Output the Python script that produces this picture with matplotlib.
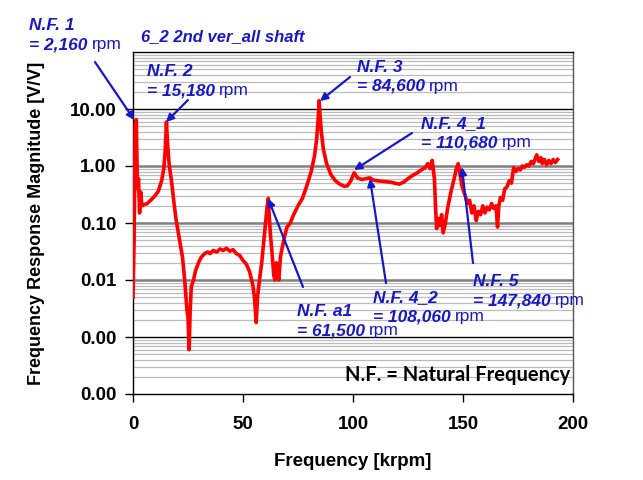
import matplotlib.pyplot as plt
from matplotlib.ticker import FixedLocator, FixedFormatter, NullFormatter

plt.rcParams['font.family'] = ['Liberation Sans', 'DejaVu Sans']

# frequency [krpm] and response magnitude [V/V]
freq = [0.0, 0.5, 1.0, 1.5, 2.0, 2.5, 3.0, 3.5, 4.0, 5.0, 6.5, 8.0, 10.0, 11.5, 13.0,
        14.0, 14.6, 15.2, 15.7, 16.5, 17.5, 18.5, 19.5, 21.0, 22.5, 23.5, 24.5, 25.0,
        25.5, 26.0, 26.5, 27.5, 28.5, 30.0, 31.0, 32.5, 34.0, 35.0, 36.5, 38.0, 39.5,
        41.0, 42.5, 44.0, 45.5, 47.0, 48.5, 50.0, 51.5, 53.0, 54.5, 55.2, 56.0, 56.6,
        57.5, 58.5, 59.5, 60.3, 61.0, 61.5, 62.0, 62.5, 63.2, 64.0, 64.5, 65.2, 65.8,
        66.3, 67.0, 68.0, 69.0, 70.0, 71.5, 73.0, 75.0, 77.0, 79.0, 81.0, 82.5, 83.5,
        84.2, 84.6, 85.0, 85.6, 86.5, 88.0, 90.0, 92.0, 94.0, 96.0, 97.5, 99.0, 100.5,
        102.0, 104.0, 106.0, 107.7, 109.0, 111.0, 113.0, 115.0, 117.0, 119.0, 121.0,
        123.0, 125.0, 127.0, 129.0, 131.0, 133.0, 134.0, 135.0, 136.0, 137.0, 137.5,
        138.0, 138.8, 139.5, 140.3, 141.0, 142.0, 143.0, 144.5, 146.0, 147.0, 147.8,
        148.5, 149.5, 151.0, 152.0, 153.0, 154.0, 155.0, 156.0, 157.0, 158.0, 159.0,
        160.0, 161.0, 162.0, 163.0, 164.0, 165.0, 165.7, 166.3, 167.0, 168.0, 169.0,
        170.0, 171.0, 172.0, 173.0, 174.0, 175.0, 176.0, 177.0, 178.0, 179.0, 180.0,
        181.0, 182.0, 183.5, 184.5, 185.5, 186.0, 187.0, 188.0, 189.0, 190.0, 191.0,
        192.0, 193.0]
mag = [0.005, 0.05, 5.5, 6.5, 0.4, 0.6, 0.15, 0.35, 0.2, 0.21, 0.22, 0.25, 0.3, 0.36, 0.55,
       0.9, 1.8, 5.9, 2.5, 1.0, 0.55, 0.25, 0.12, 0.055, 0.025, 0.01, 0.003, 0.0022,
       0.0006, 0.003, 0.0076, 0.01, 0.015, 0.021, 0.025, 0.029, 0.031, 0.029, 0.033, 0.031, 0.035,
       0.033, 0.036, 0.032, 0.034, 0.029, 0.027, 0.022, 0.019, 0.014, 0.008, 0.005, 0.0018, 0.005,
       0.01, 0.02, 0.05, 0.1, 0.2, 0.27, 0.12, 0.06, 0.03, 0.012, 0.01, 0.02, 0.012,
       0.01, 0.025, 0.04, 0.06, 0.085, 0.1, 0.14, 0.2, 0.27, 0.45, 0.8, 1.5, 3.0,
       7.0, 14.0, 8.0, 4.0, 2.0, 1.1, 0.7, 0.55, 0.48, 0.44, 0.45, 0.55, 0.76,
       0.62, 0.58, 0.6, 0.62, 0.57, 0.55, 0.54, 0.53, 0.52, 0.5, 0.48,
       0.52, 0.6, 0.68, 0.75, 0.85, 0.95, 1.1, 0.9, 1.26, 0.6, 0.2,
       0.08, 0.12, 0.09, 0.14, 0.067, 0.1, 0.18, 0.35, 0.6, 0.9, 1.1,
       0.8, 0.45, 0.3, 0.22, 0.25, 0.15, 0.2, 0.11, 0.16, 0.14, 0.2,
       0.15, 0.19, 0.17, 0.22, 0.18, 0.2, 0.085, 0.2, 0.28, 0.25, 0.4,
       0.43, 0.55, 0.5, 0.93, 0.8, 0.9, 0.85, 1.0, 0.95, 1.05, 1.0,
       1.2, 1.1, 1.57, 1.2, 1.4, 1.1, 1.3, 1.05, 1.25, 1.1, 1.3,
       1.15, 1.3]

ytick_vals = [1e-4, 1e-3, 1e-2, 1e-1, 1, 10]
ytick_labels = ['0.00', '0.00', '0.01', '0.10', '1.00', '10.00']
xtick_vals = [0, 50, 100, 150, 200]

# (name, value, text left px, first line y px, arrow head x, y, arrow tail px)
notes = [
    ('N.F. 1', '= 2,160', 29, 26, 0.6, 6.4, (95, 62)),
    ('N.F. 2', '= 15,180', 147, 72, 15.0, 5.9, (188, 100)),
    ('N.F. 3', '= 84,600', 357, 67, 85.0, 13.8, (350, 77)),
    ('N.F. 4_1', '= 110,680', 421, 124, 100.5, 0.85, (412, 133)),
    ('N.F. a1', '= 61,500', 297, 312, 61.4, 0.27, (303, 287)),
    ('N.F. 4_2', '= 108,060', 373, 298, 107.7, 0.6, (386, 283)),
    ('N.F. 5', '= 147,840', 473, 282, 149.5, 0.96, (473, 263)),
]

W, H = 643, 480
blue = '#1818c8'

fig = plt.figure(figsize=(W / 100, H / 100), dpi=100)
ax = fig.add_axes([133 / W, 1 - 394 / H, 440 / W, 342 / H])

ax.set_yscale('log')
ax.set_ylim(1e-4, 100)
ax.set_xlim(0, 200)

# horizontal grid like the spreadsheet: light minor lines, heavier decades
for d in range(-4, 2):
    for m in range(2, 10):
        ax.axhline(m * 10.0 ** d, color='#bcbcbc', lw=0.9, zorder=1)
for v in [1e-2, 1e-1, 1]:
    ax.axhline(v, color='#7f7f7f', lw=1.8, zorder=1)
for v in [1e-3, 10]:
    ax.axhline(v, color='black', lw=1.0, zorder=1)

ax.plot(freq, mag, color='red', lw=2.6, zorder=3)

ax.yaxis.set_major_locator(FixedLocator(ytick_vals))
ax.yaxis.set_major_formatter(FixedFormatter(ytick_labels))
ax.yaxis.set_minor_locator(FixedLocator([]))
ax.yaxis.set_minor_formatter(NullFormatter())
ax.set_xticks(xtick_vals)
ax.tick_params(axis='both', direction='out', length=6, width=1, labelsize=13.5, pad=6)
for lab in ax.get_xticklabels() + ax.get_yticklabels():
    lab.set_fontweight('bold')
ax.tick_params(axis='x', pad=10)

ax.set_xlabel('Frequency [krpm]', fontsize=13.5, fontweight='bold', labelpad=14)
ax.set_ylabel('Frequency Response Magnitude [V/V]', fontsize=13, fontweight='bold', labelpad=18)
for s in ax.spines.values():
    s.set_linewidth(1.0)
ax.spines['right'].set_color('#555555')

fig.text(141 / W, 1 - 37 / H, '6_2 2nd ver_all shaft', color=blue, fontsize=12,
         fontweight='bold', fontstyle='italic', va='center', ha='left')

for name, val, tx, ty, hx, hy, tail in notes:
    fig.text(tx / W, 1 - ty / H, name, color=blue, fontsize=12.5, fontweight='bold',
             fontstyle='italic', va='center', ha='left')
    t = fig.text(tx / W, 1 - (ty + 19) / H, val, color=blue, fontsize=12.5, fontweight='bold',
                 fontstyle='italic', va='center', ha='left')
    ax.annotate('rpm', xy=(1, 0.5), xycoords=t, xytext=(3, 0), textcoords='offset points',
                color=blue, fontsize=12.5, va='center', ha='left')
    ax.annotate('', xy=(hx, hy), xytext=(tail[0], H - tail[1]), textcoords='figure pixels',
                arrowprops=dict(arrowstyle='-|>', color=blue, lw=1.6, mutation_scale=11,
                                shrinkA=0, shrinkB=0), zorder=5)

fig.text(345 / W, 1 - 375 / H, 'N.F. = Natural Frequency', fontsize=14.5, fontweight='bold',
         family=['Lato', 'DejaVu Sans'], va='center', ha='left')

fig.savefig('out.png', dpi=100)
